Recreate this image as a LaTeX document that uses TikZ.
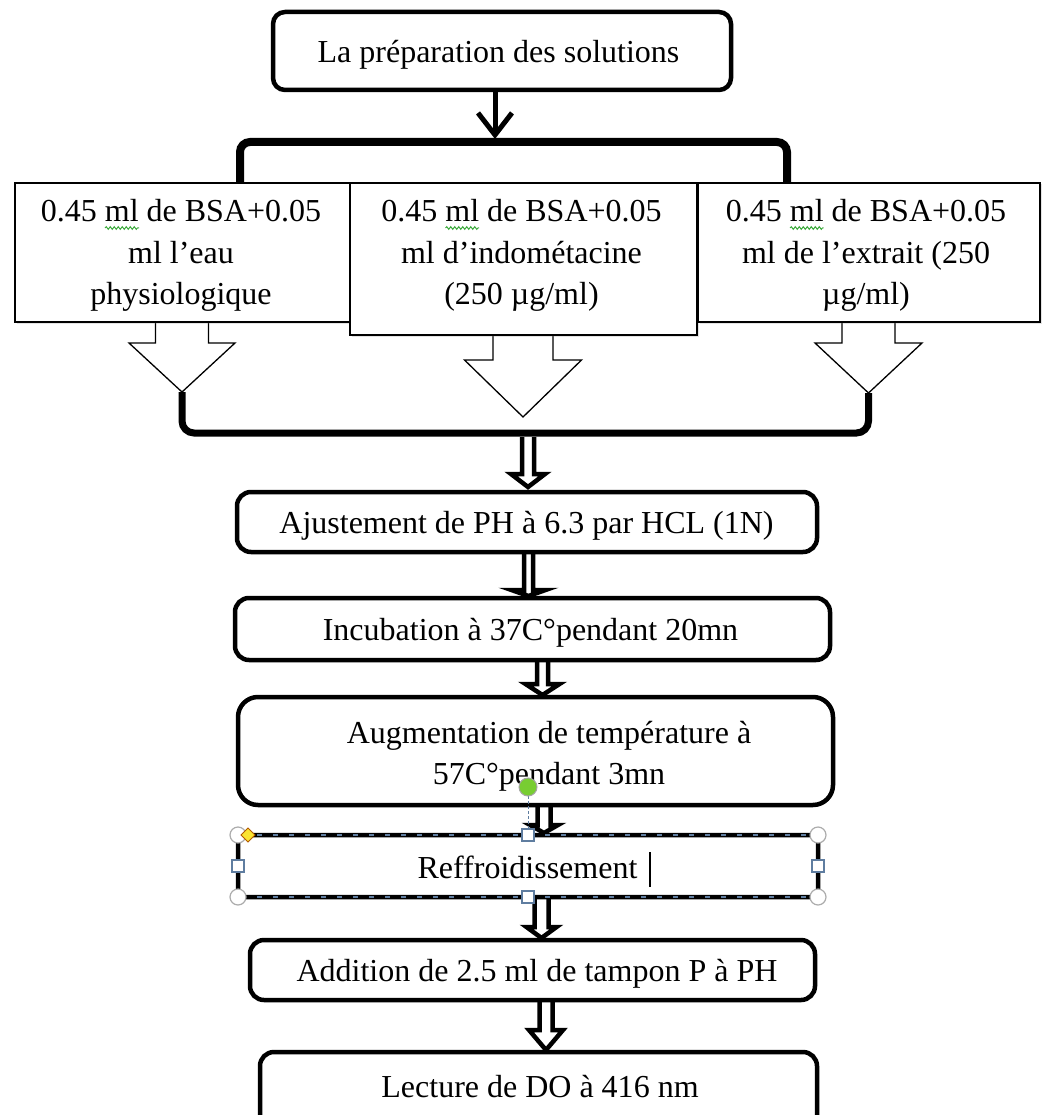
\documentclass[tikz,border=0pt]{standalone}
\usepackage{fontspec}
\setmainfont{Liberation Serif}
\usetikzlibrary{arrows.meta,shadows,decorations.pathmorphing,calc}
\definecolor{selblue}{RGB}{95,125,160}
\definecolor{wavegreen}{RGB}{60,170,60}
\definecolor{hgreen}{RGB}{120,205,50}
\definecolor{hyellow}{RGB}{250,228,50}
% #1 style, #2 centre x, #3 top y, #4 head start y, #5 tip y, #6 stem half width, #7 head half width
\newcommand\blockarrow[7]{\draw[#1] (#2-#6,#3) -- (#2-#6,#4) -- (#2-#7,#4) -- (#2,#5) -- (#2+#7,#4) -- (#2+#6,#4) -- (#2+#6,#3);}
\begin{document}
\begin{tikzpicture}[x=1pt,y=-1pt,
  txt/.style={font=\fontsize{32}{41.5}\selectfont, inner sep=0pt, anchor=base},
  shad/.style={drop shadow={shadow xshift=1.5pt,shadow yshift=-1.5pt,opacity=0.22}},
  rbox/.style={draw, line width=4.5pt, rounded corners=14pt, fill=white, inner sep=0pt, outer sep=0pt, shad},
  sbox/.style={draw, line width=1.3pt, fill=white, inner sep=0pt, outer sep=0pt, shad},
  hol/.style={draw, line width=4.5pt, fill=white, line join=miter, miter limit=10},
  thinarrow/.style={draw, line width=1.3pt, fill=white, line join=miter},
  brk/.style={line width=8pt, rounded corners=10pt},
  handle/.style={draw=gray!65, fill=white, line width=1.2pt},
  sqhandle/.style={draw=selblue, fill=white, line width=1.2pt},
  wave/.style={wavegreen, line width=1pt, decorate, decoration={snake, amplitude=1.3pt, segment length=4pt}}
]
\clip (0,0) rectangle (1043,1115);

% upper bracket
\draw[brk] (240,190) -- (240,142) -- (787,142) -- (787,190);

% arrows below the three solution boxes and the lower bracket
\blockarrow{thinarrow}{182}{322}{343}{392}{26.5}{53}
\blockarrow{thinarrow}{523}{335}{360}{417}{30}{58.5}
\blockarrow{thinarrow}{868.5}{322}{343}{393}{26.5}{53.5}
\draw[line width=7pt, rounded corners=12pt] (182,392) -- (182,433) -- (868.5,433) -- (868.5,393);

% hollow arrows between the steps
\blockarrow{hol}{528}{437}{474}{487}{6}{17}
\blockarrow{hol}{528.5}{552}{590}{596}{4.5}{17}
\blockarrow{hol}{542.5}{660}{684}{695}{5.5}{17}
\blockarrow{hol}{544}{800}{825}{833}{6.5}{14}
\blockarrow{hol}{541.5}{897}{927}{938}{7}{15}
\blockarrow{hol}{546}{1000}{1030}{1050}{6.5}{17}

% top box
\node[rbox, rounded corners=12pt, minimum width=458pt, minimum height=78pt] (top) at (502,51) {};
\node[txt] (ttop) at (498.5,63) {La préparation des solutions};
\draw[line width=5pt, -{Straight Barb[length=22pt,width=34pt]}] ($(top.south)+(-7,0)$) -- (495,139);

% three solution boxes
\node[sbox, minimum width=335pt, minimum height=139pt] (bl) at (182.5,252.5) {};
\node[txt] (tbl) at (181,222) {\begin{tabular}[t]{@{}c@{}}0.45 ml de BSA+0.05\\ ml l’eau\\ physiologique\end{tabular}};
\node[sbox, minimum width=347pt, minimum height=152pt] (bm) at (523.5,259) {};
\node[txt] (tbm) at (521.5,222) {\begin{tabular}[t]{@{}c@{}}0.45 ml de BSA+0.05\\ ml d’indométacine\\ (250 µg/ml)\end{tabular}};
\node[sbox, minimum width=342pt, minimum height=139pt] (br) at (869,252.5) {};
\node[txt] (tbr) at (866,222) {\begin{tabular}[t]{@{}c@{}}0.45 ml de BSA+0.05\\ ml de l’extrait (250\\ µg/ml)\end{tabular}};
\draw[wave] (105,228) -- (139,228);
\draw[wave] (445.5,228) -- (479,228);
\draw[wave] (790,228) -- (823.5,228);

% steps
\node[rbox, minimum width=580pt, minimum height=60pt] (aj) at (527,522) {};
\node[txt] (taj) at (526.5,533) {Ajustement de PH à 6.3 par HCL (1N)};
\node[rbox, minimum width=595pt, minimum height=62pt] (inc) at (532.5,629) {};
\node[txt] (tinc) at (530.5,640) {Incubation à 37C°pendant 20mn};
\node[rbox, rounded corners=20pt, minimum width=595pt, minimum height=108pt] (aug) at (535.5,751) {};
\node[txt] (taug) at (549,743) {\begin{tabular}[t]{@{}c@{}}Augmentation de température à\\ 57C°pendant 3mn\end{tabular}};
\node[rbox, rounded corners=5pt, minimum width=580pt, minimum height=62pt] (ref) at (528,866) {};
\node[txt] (tref) at (527.5,878) {Reffroidissement};
\node[rbox, minimum width=565pt, minimum height=60pt] (add) at (532.5,970) {};
\node[txt] (tadd) at (537,981) {Addition de 2.5 ml de tampon P à PH};
\node[rbox, minimum width=557pt, minimum height=88pt] (lec) at (538.5,1096) {};
\node[txt] (tlec) at (540,1097) {Lecture de DO à 416 nm};

% selection frame of the Reffroidissement box
\foreach \yy in {835,897} {
  \draw[selblue, line width=2.5pt] (246,\yy) -- (810,\yy);
  \draw[black, line width=2.5pt, dash pattern=on 11pt off 5pt] (246,\yy) -- (810,\yy);
}
\draw[line width=2.5pt] (650,852) -- (650,887);
\draw[selblue, line width=1pt, dash pattern=on 3pt off 2pt] (528,796) -- (528,829);
\foreach \p in {(238,835),(818,835),(238,897),(818,897)} \draw[handle] \p circle[radius=8pt];
\foreach \p in {(528,835),(528,897),(238,866),(818,866)} \draw[sqhandle] \p ++(-6,-6) rectangle ++(12,12);
\draw[fill=hyellow, draw=orange!70!black, line width=0.8pt] (248,828) -- (255,835) -- (248,842) -- (241,835) -- cycle;
\draw[fill=hgreen, draw=gray!70, line width=1pt] (528,787) circle[radius=9pt];
\end{tikzpicture}
\end{document}
